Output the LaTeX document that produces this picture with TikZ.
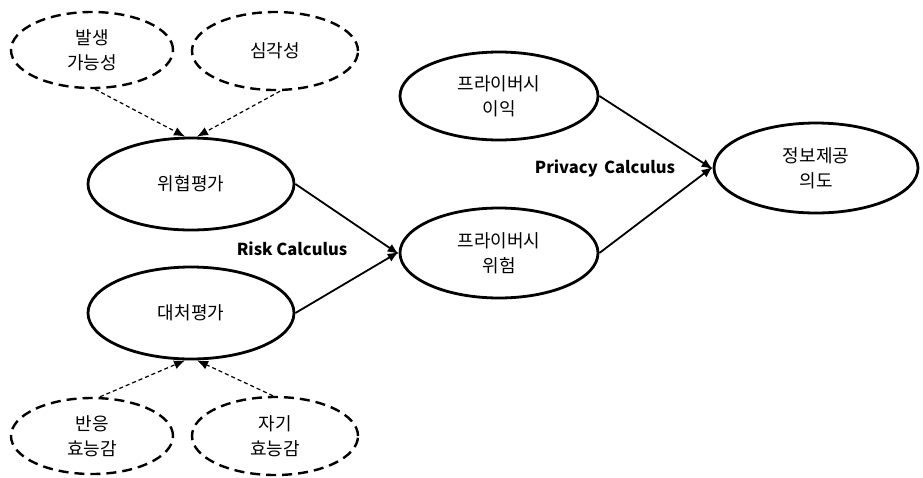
\documentclass[tikz,border=0pt]{standalone}
\usepackage{fontspec}
\setmainfont{Noto Sans CJK KR}
\usetikzlibrary{shapes.geometric,arrows.meta}
\tikzset{
  solidell/.style={ellipse, draw, line width=2.8pt, inner sep=0pt, align=center, font=\fontsize{18}{25}\selectfont},
  dashell/.style={ellipse, draw, line width=2.4pt, dash pattern=on 10pt off 6pt, inner sep=0pt, align=center, font=\fontsize{18}{25}\selectfont},
  link/.style={line width=1.8pt, -{Latex[length=11pt,width=9pt]}},
  dlink/.style={line width=1.2pt, dash pattern=on 4pt off 3pt, -{Latex[length=11pt,width=9pt]}},
  calc/.style={font=\bfseries\fontsize{16.5}{19}\selectfont}
}
\begin{document}
\begin{tikzpicture}[x=1pt,y=-1pt]
\useasboundingbox (0,0) rectangle (923,477);
\node[dashell, minimum width=162pt, minimum height=76pt] (bs) at (92,50) {발생\\가능성};
\node[dashell, minimum width=166pt, minimum height=78pt] (sg) at (275,51) {심각성};
\node[solidell, minimum width=206pt, minimum height=92pt] (wh) at (191,184) {위협평가};
\node[solidell, minimum width=206pt, minimum height=92pt] (dc) at (191,313) {대처평가};
\node[dashell, minimum width=162pt, minimum height=76pt] (ba) at (92,436) {반응\\효능감};
\node[dashell, minimum width=166pt, minimum height=78pt] (jg) at (275,436) {자기\\효능감};
\node[solidell, minimum width=198pt, minimum height=88pt] (pi) at (499,96) {프라이버시\\이익};
\node[solidell, minimum width=198pt, minimum height=90pt] (pr) at (499,253) {프라이버시\\위험};
\node[solidell, minimum width=204pt, minimum height=90pt] (jb) at (816,168) {정보제공\\의도};
\node[calc] (rc) at (292,249) {Risk Calculus};
\node[calc] (pc) at (605,168) {Privacy\, Calculus};
\draw[dlink] (bs.south) ++(3,0) -- ([xshift=-6pt]wh.north);
\draw[dlink] (sg.south) ++(5,0) -- ([xshift=6pt]wh.north);
\draw[dlink] ([xshift=8pt]ba.north) -- ([xshift=-6pt]dc.south);
\draw[dlink] ([xshift=-2pt]jg.north) -- ([xshift=6pt]dc.south);
\draw[link] (wh.east) -- ([yshift=-1pt]pr.west);
\draw[link] (dc.east) -- ([yshift=1pt]pr.west);
\draw[link] (pi.east) -- ([yshift=-1pt]jb.west);
\draw[link] (pr.east) -- ([yshift=1pt]jb.west);
\end{tikzpicture}
\end{document}
